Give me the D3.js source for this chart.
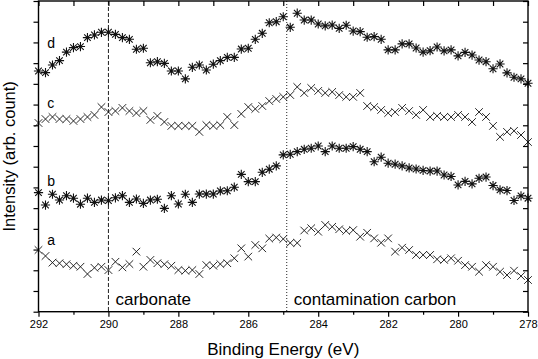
<!DOCTYPE html>
<html>
<head>
<meta charset="utf-8">
<script src="https://cdn.jsdelivr.net/npm/d3@7"></script>
<style>
  body { margin: 0; background: #fff; }
  svg { display: block; font-family: "Liberation Sans", Arial, sans-serif; }
</style>
</head>
<body>
<script>
// binding energy grid (eV)
var energy = [292.0,291.8,291.6,291.4,291.2,291.0,290.8,290.6,290.4,290.2,
  290.0,289.8,289.6,289.4,289.2,289.0,288.8,288.6,288.4,288.2,
  288.0,287.8,287.6,287.4,287.2,287.0,286.8,286.6,286.4,286.2,
  286.0,285.8,285.6,285.4,285.2,285.0,284.8,284.6,284.4,284.2,
  284.0,283.8,283.6,283.4,283.2,283.0,282.8,282.6,282.4,282.2,
  282.0,281.8,281.6,281.4,281.2,281.0,280.8,280.6,280.4,280.2,
  280.0,279.8,279.6,279.4,279.2,279.0,278.8,278.6,278.4,278.2,278.0];

// intensities (arb. count, curves offset)
var seriesA = [2.98,2.69,2.37,2.34,2.29,2.22,2.17,1.82,2.12,2.17,
  2.01,2.41,2.14,2.30,2.90,2.17,2.50,2.34,2.29,2.22,
  2.01,1.98,2.01,1.82,2.25,2.22,2.30,2.34,2.58,3.06,
  2.66,3.22,3.06,3.53,3.58,3.51,3.32,3.32,3.92,4.03,
  3.86,4.19,4.10,3.98,3.90,3.94,3.62,3.81,3.54,3.33,
  3.54,2.90,3.09,2.98,2.74,2.74,2.74,2.53,2.50,2.58,
  2.46,2.25,2.17,1.93,2.25,2.17,1.93,1.77,1.98,1.72,1.53];
var seriesB = [5.75,5.15,5.67,5.39,5.60,5.48,5.19,5.48,5.28,5.39,
  5.36,5.50,5.60,5.28,5.44,5.23,5.39,5.43,4.99,5.60,
  5.20,5.67,5.28,5.68,5.68,5.68,5.83,5.84,6.01,6.63,
  6.28,6.28,6.73,6.88,7.04,7.57,7.60,7.73,7.84,7.89,
  8.00,7.73,8.00,7.89,7.89,7.97,7.84,7.73,7.24,7.46,
  7.17,7.12,7.04,6.94,6.89,6.82,6.79,6.79,6.60,6.53,
  6.12,6.29,6.17,6.44,6.50,6.09,5.88,5.85,5.37,5.59,5.48];
var seriesC = [9.11,9.30,9.40,9.30,9.30,9.21,9.30,9.40,9.50,9.88,
  9.64,9.69,9.84,9.69,9.59,9.69,9.26,9.45,9.16,8.97,
  8.97,8.97,8.97,8.68,9.01,8.97,9.01,9.40,9.01,9.55,
  9.88,9.79,9.93,10.17,10.27,10.37,10.46,10.85,10.56,10.80,
  10.66,10.56,10.61,10.46,10.37,10.37,10.56,9.93,9.88,9.74,
  9.59,9.64,9.84,9.69,9.50,9.74,9.40,9.45,9.40,9.40,
  9.50,9.40,9.16,9.64,9.40,8.97,8.44,8.68,8.73,8.53,8.19];
var seriesD = [11.62,11.54,11.91,12.12,12.53,12.75,12.80,13.23,13.36,13.49,
  13.49,13.39,13.23,13.15,12.67,12.72,12.02,12.07,11.99,11.62,
  11.62,11.24,11.80,11.91,11.67,11.95,12.12,12.28,12.28,12.68,
  12.72,13.15,13.44,13.95,14.00,14.24,13.73,14.41,14.08,14.08,
  13.89,13.80,13.84,13.68,13.83,13.55,13.52,13.25,13.28,13.15,
  12.64,12.64,12.93,12.93,12.73,12.53,12.60,12.78,12.59,12.64,
  12.35,12.52,12.39,12.15,12.07,11.73,11.96,11.53,11.32,11.24,11.03];

var seriesNames = ['a','b','c','d'];
var seriesMarks = ['cross','star','cross','star'];
var labelPos = [[291.75,3.22],[291.75,6.07],[291.75,9.84],[291.75,12.73]];

var majorTicks = [292,290,288,286,284,282,280,278];
var minorTicks = [291,289,287,285,283,281,279];
var yTicks = d3.range(0,16);

var refLines = [{e:290, dash:'4,2', text:'carbonate'},
                {e:284.9, dash:'1,2', text:'contamination carbon'}];

var width = 538, height = 359;
var padL = 38.5, padR = 528, padT = 1, padB = 311.7;

var svg = d3.select('body').append('svg')
  .attr('width', width).attr('height', height);

var x = d3.scaleLinear().domain([292,278]).range([padL,padR]);
var y = d3.scaleLinear().domain([0,15]).range([padB,padT]);

// reference lines
svg.selectAll('line.ref').data(refLines).enter().append('line')
  .attr('class','ref')
  .attr('x1', d=>x(d.e)).attr('x2', d=>x(d.e))
  .attr('y1', padT).attr('y2', padB)
  .attr('stroke','#222').attr('stroke-width',1)
  .attr('stroke-dasharray', d=>d.dash);

svg.selectAll('text.ref').data(refLines).enter().append('text')
  .attr('class','ref')
  .attr('x', d=>x(d.e)+7).attr('y', y(0.33))
  .attr('font-size',17).attr('fill','#000')
  .text(d=>d.text);

// data markers
var allSeries = [seriesA, seriesB, seriesC, seriesD];
allSeries.forEach(function(vals, k){
  var g = svg.append('g').attr('stroke','#111').attr('fill','none');
  var pts = g.selectAll('path').data(vals).enter().append('path')
    .attr('transform', (d,i)=>'translate('+x(energy[i])+','+y(d)+')');
  if (seriesMarks[k] === 'cross') {
    pts.attr('d','M-3.8,-3.8L3.8,3.8M-3.8,3.8L3.8,-3.8')
      .attr('stroke-width', 0.9);
  } else {
    pts.attr('d','M0,-4.6V4.6M-4.6,0H4.6M-3.3,-3.3L3.3,3.3M-3.3,3.3L3.3,-3.3')
      .attr('stroke-width', 1.1);
  }
  svg.append('text')
    .attr('x', x(labelPos[k][0])).attr('y', y(labelPos[k][1]))
    .attr('font-size',14).attr('fill','#000')
    .text(seriesNames[k]);
});

// axes
var bottomAxis = svg.append('g')
  .attr('transform','translate(0,'+padB+')')
  .call(d3.axisBottom(x).tickValues(majorTicks).tickSize(5).tickPadding(4).tickFormat(d3.format('d')));
svg.append('g')
  .attr('transform','translate(0,'+padB+')')
  .call(d3.axisBottom(x).tickValues(minorTicks).tickSize(3).tickFormat(''));
svg.append('g')
  .attr('transform','translate(0,'+padT+')')
  .call(d3.axisTop(x).tickValues(majorTicks.concat(minorTicks)).tickSize(-5).tickFormat(''));
svg.append('g')
  .attr('transform','translate('+padL+',0)')
  .call(d3.axisLeft(y).tickValues(yTicks).tickSize(5).tickFormat(''));
svg.append('g')
  .attr('transform','translate('+padR+',0)')
  .call(d3.axisRight(y).tickValues(yTicks).tickSize(-5).tickFormat(''));

svg.selectAll('.domain').remove();
svg.selectAll('.tick line').attr('stroke','#000').attr('stroke-width',1.2);
bottomAxis.selectAll('text').attr('font-size',11).attr('fill','#000')
  .attr('font-family','"Liberation Sans", Arial, sans-serif');

svg.append('rect')
  .attr('x',padL).attr('y',padT)
  .attr('width',padR-padL).attr('height',padB-padT)
  .attr('fill','none').attr('stroke','#000').attr('stroke-width',1.4);

// axis titles
svg.append('text')
  .attr('x',(padL+padR)/2).attr('y',355)
  .attr('text-anchor','middle').attr('font-size',17)
  .text('Binding Energy (eV)');
svg.append('text')
  .attr('transform','translate(15,'+((padT+padB)/2)+') rotate(-90)')
  .attr('text-anchor','middle').attr('font-size',16.5)
  .text('Intensity (arb. count)');
</script>
</body>
</html>
